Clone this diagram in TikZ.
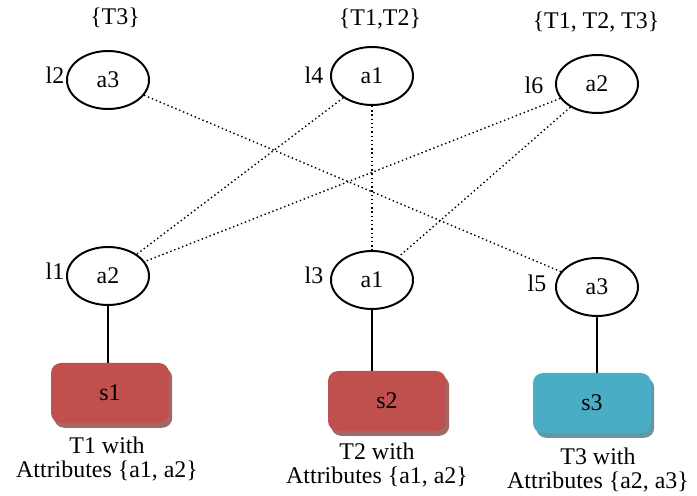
\documentclass[tikz,border=0pt]{standalone}
\usepackage{fontspec}
\setmainfont{Liberation Serif}
\usetikzlibrary{shapes.geometric}
\definecolor{R}{RGB}{192,80,77}
\definecolor{C}{RGB}{75,172,198}
\tikzset{
  every node/.style={font=\fontsize{17}{17.5}\selectfont},
  attr/.style={draw, line width=1.4pt, ellipse, minimum width=2.05cm, minimum height=1.45cm, inner sep=0pt},
  srcbox/.style={fill=#1, rounded corners=0.25cm, minimum width=2.95cm, minimum height=1.5cm,
    preaction={fill=#1!50!gray, transform canvas={shift={(0.08cm,-0.12cm)}}}},
  link/.style={dotted, line width=1pt},
  tie/.style={line width=1.2pt}
}
\begin{document}
\begin{tikzpicture}
\useasboundingbox (0,0) rectangle (17.425,12.375);
\node[attr] (ta3) at (2.7,10.375) {a3};
\node[attr] (ta1) at (9.3,10.475) {a1};
\node[attr] (ta2) at (14.925,10.275) {a2};
\node[attr] (ba2) at (2.7,5.475) {a2};
\node[attr] (ba1) at (9.3,5.375) {a1};
\node[attr] (ba3) at (14.925,5.2) {a3};
\node (set1) at (2.875,11.925) {\{T3\}};
\node (set2) at (9.5,11.9) {\{T1,T2\}};
\node (set3) at (14.9,11.825) {\{T1, T2, T3\}};
\node (l2) at (1.375,10.5) {l2};
\node (l4) at (7.85,10.5) {l4};
\node (l6) at (13.35,10.25) {l6};
\node (l1) at (1.375,5.6) {l1};
\node (l3) at (7.85,5.5) {l3};
\node (l5) at (13.425,5.3) {l5};
\node[srcbox=R] (s1) at (2.75,2.55) {s1};
\node[srcbox=R] (s2) at (9.675,2.35) {s2};
\node[srcbox=C] (s3) at (14.8,2.3) {s3};
\node[align=center] (t1) at (2.675,0.9) {T1 with\\Attributes \{a1, a2\}};
\node[align=center] (t2) at (9.425,0.75) {T2 with\\Attributes \{a1, a2\}};
\node[align=center] (t3) at (14.95,0.62) {T3 with\\Attributes \{a2, a3\}};
\draw[link] (ta3) -- (ba3);
\draw[link] (ta1) -- (ba2);
\draw[link] (ta1) -- (ba1);
\draw[link] (ta2) -- (ba2);
\draw[link] (ta2) -- (ba1);
\draw[tie] (ba2) -- (ba2 |- s1.north);
\draw[tie] (ba1) -- (ba1 |- s2.north);
\draw[tie] (ba3) -- (ba3 |- s3.north);
\end{tikzpicture}
\end{document}
